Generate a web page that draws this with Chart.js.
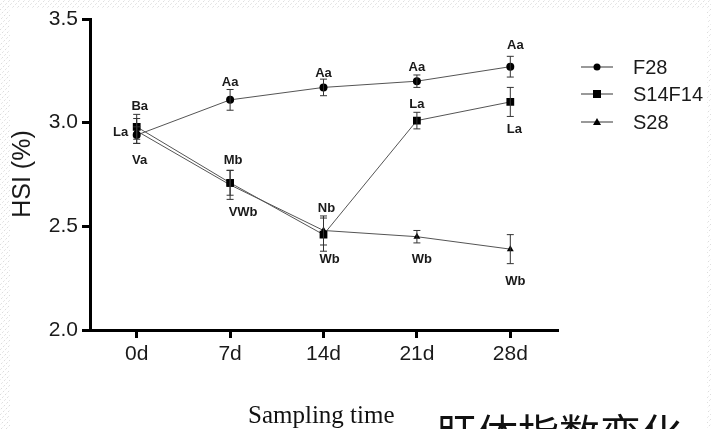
<!DOCTYPE html>
<html>
<head>
<meta charset="utf-8">
<script src="https://cdn.jsdelivr.net/npm/chart.js@4/dist/chart.umd.min.js"></script>
<style>
  html, body { margin: 0; padding: 0; background: #fff; }
  #wrap { position: relative; width: 711px; height: 429px; overflow: hidden; }
  canvas { display: block; }
</style>
</head>
<body>
<div id="wrap"><canvas id="c" width="711" height="429"></canvas></div>
<script>
// ---- data ----
const categories = ['0d', '7d', '14d', '21d', '28d'];
const seriesNames = ['F28', 'S14F14', 'S28'];
const f28 = [2.94, 3.11, 3.17, 3.20, 3.27];
const f28Err = [0.04, 0.05, 0.04, 0.03, 0.05];
const s14f14 = [2.98, 2.71, 2.46, 3.01, 3.10];
const s14f14Err = [0.06, 0.06, 0.08, 0.04, 0.07];
const s28 = [2.96, 2.70, 2.48, 2.45, 2.39];
const s28Err = [0.06, 0.07, 0.07, 0.03, 0.07];
const yTicks = [2.0, 2.5, 3.0, 3.5];
const yTitle = 'HSI (%)';
const xTitle = 'Sampling time';
const captionText = '肝体指数变化';
// significance letters: [seriesIndex, categoryIndex, text]
const sigLetters = [
  [1, 0, 'Ba'], [1, 0, 'La'], [2, 0, 'Va'],
  [0, 1, 'Aa'], [1, 1, 'Mb'], [2, 1, 'VWb'],
  [0, 2, 'Aa'], [1, 2, 'Nb'], [2, 2, 'Wb'],
  [0, 3, 'Aa'], [1, 3, 'La'], [2, 3, 'Wb'],
  [0, 4, 'Aa'], [1, 4, 'La'], [2, 4, 'Wb']
];
// label offsets (pixels, styling only) in same order
const sigOffsets = [
  [3, -20], [-16, 6], [3, 29],
  [0, -17], [3, -22], [13, 28],
  [0, -14], [3, -26], [6, 29],
  [0, -14], [0, -16], [5, 23],
  [5, -21], [4, 27], [5, 32]
];

const errs = [f28Err, s14f14Err, s28Err];

const errorBarPlugin = {
  id: 'errbars',
  afterDatasetsDraw(chart) {
    const ctx = chart.ctx;
    const y = chart.scales.y;
    ctx.save();
    ctx.strokeStyle = '#333';
    ctx.lineWidth = 1;
    chart.data.datasets.forEach((ds, di) => {
      const meta = chart.getDatasetMeta(di);
      meta.data.forEach((pt, i) => {
        const v = ds.data[i], e = errs[di][i];
        const yt = y.getPixelForValue(v + e), yb = y.getPixelForValue(v - e);
        const x = pt.x;
        ctx.beginPath();
        ctx.moveTo(x, yt); ctx.lineTo(x, yb);
        ctx.moveTo(x - 3.5, yt); ctx.lineTo(x + 3.5, yt);
        ctx.moveTo(x - 3.5, yb); ctx.lineTo(x + 3.5, yb);
        ctx.stroke();
      });
    });
    // letters
    ctx.fillStyle = '#1a1a1a';
    ctx.font = 'bold 13px "Liberation Sans", Arial, sans-serif';
    ctx.textAlign = 'center';
    ctx.textBaseline = 'middle';
    sigLetters.forEach((s, k) => {
      const pt = chart.getDatasetMeta(s[0]).data[s[1]];
      ctx.fillText(s[2], pt.x + sigOffsets[k][0], pt.y + sigOffsets[k][1]);
    });
    ctx.restore();
  }
};

const decoPlugin = {
  id: 'deco',
  beforeDraw(chart) {
    const ctx = chart.ctx;
    const W = chart.width, H = chart.height;
    ctx.save();
    ctx.fillStyle = '#fff';
    ctx.fillRect(0, 0, W, H);
    // faint hatch on borders
    ctx.beginPath();
    ctx.rect(0, 0, W, 8);
    ctx.rect(0, 0, 10, H);
    ctx.rect(W - 4, 0, 4, H);
    ctx.clip();
    ctx.strokeStyle = '#dcdcdc';
    ctx.lineWidth = 1;
    ctx.setLineDash([2, 2]);
    for (let k = -H; k < W + H; k += 5) {
      ctx.beginPath();
      ctx.moveTo(k, H); ctx.lineTo(k + H, 0);
      ctx.stroke();
    }
    ctx.restore();
  },
  afterDraw(chart) {
    const ctx = chart.ctx;
    ctx.save();
    // y title
    ctx.fillStyle = '#1a1a1a';
    ctx.font = '25px "Liberation Sans", Arial, sans-serif';
    ctx.textAlign = 'center';
    ctx.textBaseline = 'middle';
    ctx.translate(23, 174);
    ctx.rotate(-Math.PI / 2);
    ctx.fillText(yTitle, 0, 0);
    ctx.restore();

    ctx.save();
    ctx.fillStyle = '#111';
    ctx.font = '25px "Liberation Serif", "Times New Roman", serif';
    ctx.textAlign = 'left';
    ctx.textBaseline = 'alphabetic';
    ctx.fillText(xTitle, 248, 423);
    ctx.font = '41px "Noto Sans CJK SC", sans-serif';
    ctx.fillText(captionText, 436, 449);
    ctx.restore();

    // legend
    ctx.save();
    const ly = [67, 94, 122];
    chart.data.datasets.forEach((ds, i) => {
      ctx.strokeStyle = '#555';
      ctx.lineWidth = 1.2;
      ctx.beginPath();
      ctx.moveTo(581, ly[i]); ctx.lineTo(613, ly[i]);
      ctx.stroke();
      ctx.fillStyle = '#000';
      const cx = 597, cy = ly[i];
      ctx.beginPath();
      if (i === 0) { ctx.arc(cx, cy, 3.5, 0, Math.PI * 2); }
      else if (i === 1) { ctx.rect(cx - 4, cy - 4, 8, 8); }
      else { ctx.moveTo(cx, cy - 4); ctx.lineTo(cx + 4, cy + 3); ctx.lineTo(cx - 4, cy + 3); ctx.closePath(); }
      ctx.fill();
      ctx.fillStyle = '#1a1a1a';
      ctx.font = '20px "Liberation Sans", Arial, sans-serif';
      ctx.textAlign = 'left';
      ctx.textBaseline = 'middle';
      ctx.fillText(ds.label, 633, ly[i] + 1);
    });
    ctx.restore();
  }
};

const ctx = document.getElementById('c').getContext('2d');
new Chart(ctx, {
  type: 'line',
  data: {
    labels: categories,
    datasets: [
      { label: seriesNames[0], data: f28, pointStyle: 'circle', pointRadius: 4 },
      { label: seriesNames[1], data: s14f14, pointStyle: 'rect', pointRadius: 5.5 },
      { label: seriesNames[2], data: s28, pointStyle: 'triangle', pointRadius: 4 }
    ].map(d => Object.assign(d, {
      borderColor: '#555', borderWidth: 1, backgroundColor: '#000',
      pointBackgroundColor: '#000', pointBorderColor: '#000', pointBorderWidth: 0,
      tension: 0, fill: false
    }))
  },
  options: {
    responsive: false,
    animation: false,
    events: [],
    layout: { padding: { top: 19, right: 154, left: 0, bottom: 0 } },
    plugins: { legend: { display: false }, tooltip: { enabled: false } },
    scales: {
      x: {
        type: 'category',
        offset: true,
        grid: { display: true, drawOnChartArea: false, offset: false, drawTicks: true, tickLength: 8, color: '#000', lineWidth: 3 },
        border: { display: true, color: '#000', width: 3 },
        ticks: { color: '#1a1a1a', font: { family: '"Liberation Sans", Arial, sans-serif', size: 21 }, padding: 4, maxRotation: 0 },
        afterFit(scale) { scale.height = 99; }
      },
      y: {
        min: 2.0, max: 3.5,
        afterBuildTicks(scale) { scale.ticks = yTicks.map(v => ({ value: v })); },
        grid: { display: true, drawOnChartArea: false, drawTicks: true, tickLength: 8, color: '#000', lineWidth: 3 },
        border: { display: true, color: '#000', width: 3 },
        ticks: { color: '#1a1a1a', font: { family: '"Liberation Sans", Arial, sans-serif', size: 21 }, padding: 4,
          callback: v => Number(v).toFixed(1) },
        afterFit(scale) { scale.width = 90; }
      }
    }
  },
  plugins: [decoPlugin, errorBarPlugin]
});
</script>
</body>
</html>
